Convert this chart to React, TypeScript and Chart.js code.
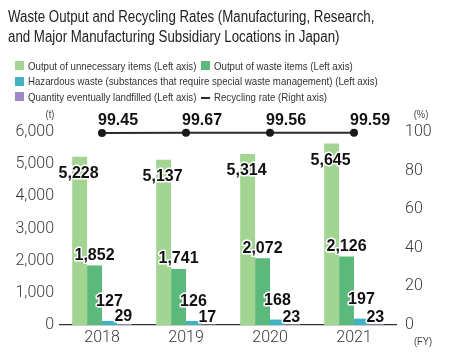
import React, { useEffect, useRef } from "react";
import { Chart, registerables } from "chart.js";

Chart.register(...registerables);

const categories = ["2018", "2019", "2020", "2021"];
const unnecessaryItems = [5228, 5137, 5314, 5645];
const wasteItems = [1852, 1741, 2072, 2126];
const hazardousWaste = [127, 126, 168, 197];
const landfilled = [29, 17, 23, 23];
const recyclingRate = [99.45, 99.67, 99.56, 99.59];
const leftTicks = [0, 1000, 2000, 3000, 4000, 5000, 6000];
const rightTicks = [0, 20, 40, 60, 80, 100];

const title = [
  "Waste Output and Recycling Rates (Manufacturing, Research,",
  "and Major Manufacturing Subsidiary Locations in Japan)",
];
const legendLabels = {
  unnecessary: "Output of unnecessary items (Left axis)",
  waste: "Output of waste items (Left axis)",
  hazardous: "Hazardous waste (substances that require special waste management) (Left axis)",
  landfilled: "Quantity eventually landfilled (Left axis)",
  rate: "Recycling rate (Right axis)",
};

const COLORS = {
  unnecessary: "#a1d591",
  waste: "#5cb97c",
  hazardous: "#41b1c3",
  landfilled: "#9d89c6",
  line: "#2b2b2b",
};

const SANS = "'Liberation Sans', Arial, sans-serif";
const LIGHT = "Roboto, 'Liberation Sans', sans-serif";

// label offsets relative to bar top centre, by bar dataset (style only)
const labelOffsets = [
  { dx: -1, dy: 17 },
  { dx: 0, dy: -10 },
  { dx: 0, dy: -19 },
  { dx: -1, dy: -7 },
];

const labelPlugin = {
  id: "valueLabels",
  afterDatasetsDraw(chart: any) {
    const ctx = chart.ctx;
    ctx.save();
    ctx.font = `bold 16px ${SANS}`;
    ctx.lineJoin = "round";
    chart.data.datasets.forEach((ds: any, di: number) => {
      const meta = chart.getDatasetMeta(di);
      meta.data.forEach((el: any, i: number) => {
        const v = ds.data[i];
        let text: string;
        let x: number;
        let y: number;
        if (ds.type === "line") {
          text = v.toFixed(2);
          ctx.textAlign = "left";
          x = el.x - 4;
          y = el.y - 12;
        } else {
          text = v.toLocaleString("en-US");
          ctx.textAlign = "center";
          const off = labelOffsets[di] || { dx: 0, dy: -8 };
          x = el.x + off.dx;
          y = el.y + off.dy;
        }
        ctx.textBaseline = "middle";
        ctx.strokeStyle = "#ffffff";
        ctx.lineWidth = 3;
        ctx.strokeText(text, x, y);
        ctx.fillStyle = "#111111";
        ctx.fillText(text, x, y);
      });
    });
    ctx.restore();
  },
};

const unitPlugin = {
  id: "unitLabels",
  afterDraw(chart: any) {
    const ctx = chart.ctx;
    const a = chart.chartArea;
    const put = (t: string, x: number, y: number) => {
      ctx.save();
      ctx.translate(x, y);
      ctx.scale(0.85, 1);
      ctx.fillText(t, 0, 0);
      ctx.restore();
    };
    ctx.save();
    ctx.font = `11px ${SANS}`;
    ctx.fillStyle = "#444";
    ctx.textBaseline = "middle";
    ctx.textAlign = "center";
    put("(t)", a.left - 10, a.top - 17);
    put("(%)", a.right + 25, a.top - 17);
    put("(FY)", a.right + 27, a.bottom + 17);
    ctx.restore();
  },
};

export default function App() {
  const ref = useRef<HTMLCanvasElement | null>(null);

  useEffect(() => {
    if (!ref.current) return;
    const chart = new Chart(ref.current, {
      type: "bar",
      data: {
        labels: categories,
        datasets: [
          {
            label: legendLabels.unnecessary,
            data: unnecessaryItems,
            backgroundColor: COLORS.unnecessary,
            yAxisID: "y",
            order: 1,
          },
          {
            label: legendLabels.waste,
            data: wasteItems,
            backgroundColor: COLORS.waste,
            yAxisID: "y",
            order: 1,
          },
          {
            label: legendLabels.hazardous,
            data: hazardousWaste,
            backgroundColor: COLORS.hazardous,
            yAxisID: "y",
            order: 1,
          },
          {
            label: legendLabels.landfilled,
            data: landfilled,
            backgroundColor: COLORS.landfilled,
            yAxisID: "y",
            order: 1,
          },
          {
            type: "line",
            label: legendLabels.rate,
            data: recyclingRate,
            yAxisID: "y1",
            borderColor: COLORS.line,
            backgroundColor: COLORS.line,
            borderWidth: 2,
            pointRadius: 4,
            pointBackgroundColor: "#1a1a1a",
            pointBorderWidth: 0,
            order: 0,
            clip: false,
          } as any,
        ],
      },
      options: {
        responsive: false,
        animation: false,
        devicePixelRatio: 1,
        datasets: {
          bar: { categoryPercentage: 0.71, barPercentage: 1.0 },
        },
        layout: { padding: { top: 132, left: 0, right: 0, bottom: 0 } },
        plugins: {
          legend: { display: false },
          title: { display: false },
          tooltip: { enabled: false },
        },
        scales: {
          x: {
            grid: { display: false, drawTicks: false },
            border: { display: true, color: "#333", width: 1.2 },
            ticks: {
              color: "#3a3a3a",
              font: { family: LIGHT, size: 16, weight: "300" },
              padding: 3,
            },
            afterFit(s: any) {
              s.height = 29;
            },
          },
          y: {
            position: "left",
            min: 0,
            max: 6000,
            grid: { display: false, drawTicks: false },
            border: { display: false },
            afterBuildTicks(s: any) {
              s.ticks = leftTicks.map((v) => ({ value: v }));
            },
            ticks: {
              color: "#3a3a3a",
              font: { family: LIGHT, size: 16, weight: "300" },
              padding: 6,
              callback: (v: any) => Number(v).toLocaleString("en-US"),
            },
            afterFit(s: any) {
              s.width = 60;
            },
          },
          y1: {
            position: "right",
            min: 0,
            max: 100,
            grid: { display: false, drawTicks: false },
            border: { display: false },
            afterBuildTicks(s: any) {
              s.ticks = rightTicks.map((v) => ({ value: v }));
            },
            ticks: {
              color: "#3a3a3a",
              font: { family: LIGHT, size: 16, weight: "300" },
              padding: 9,
            },
            afterFit(s: any) {
              s.width = 53;
            },
          },
        },
      },
      plugins: [labelPlugin, unitPlugin],
    });
    return () => chart.destroy();
  }, []);

  const sq = (color: string): React.CSSProperties => ({
    display: "inline-block",
    width: 9,
    height: 9,
    background: color,
    marginRight: 4,
    verticalAlign: "middle",
    position: "relative",
    top: -1,
  });
  const row: React.CSSProperties = {
    height: 15.5,
    lineHeight: "15.5px",
    whiteSpace: "nowrap",
  };
  const narrow = (s: number): React.CSSProperties => ({
    display: "inline-block",
    transform: `scaleX(${s})`,
    transformOrigin: "left center",
    whiteSpace: "nowrap",
  });

  return (
    <div style={{ position: "absolute", left: 0, top: 0, width: 449, height: 354, background: "#fff", overflow: "hidden" }}>
      <canvas ref={ref} width={449} height={354} style={{ position: "absolute", left: 0, top: 0, width: 449, height: 354 }} />
      <div
        style={{
          position: "absolute",
          left: 8,
          top: 7,
          fontFamily: SANS,
          fontSize: 16,
          lineHeight: "20px",
          color: "#222",
          ...narrow(0.83),
        }}
      >
        {title[0]}
        <br />
        {title[1]}
      </div>
      <div
        style={{
          position: "absolute",
          left: 15,
          top: 58.5,
          fontFamily: SANS,
          fontSize: 11,
          color: "#333",
        }}
      >
        <div style={row}>
          <span style={sq(COLORS.unnecessary)} />
          <span style={{ ...narrow(0.88), width: 173 }}>{legendLabels.unnecessary}</span>
          <span style={sq(COLORS.waste)} />
          <span style={narrow(0.88)}>{legendLabels.waste}</span>
        </div>
        <div style={row}>
          <span style={sq(COLORS.hazardous)} />
          <span style={narrow(0.88)}>{legendLabels.hazardous}</span>
        </div>
        <div style={row}>
          <span style={sq(COLORS.landfilled)} />
          <span style={{ ...narrow(0.88), width: 173 }}>{legendLabels.landfilled}</span>
          <span
            style={{
              display: "inline-block",
              width: 9,
              height: 2,
              background: COLORS.line,
              marginRight: 4,
              verticalAlign: "middle",
            }}
          />
          <span style={narrow(0.88)}>{legendLabels.rate}</span>
        </div>
      </div>
    </div>
  );
}
